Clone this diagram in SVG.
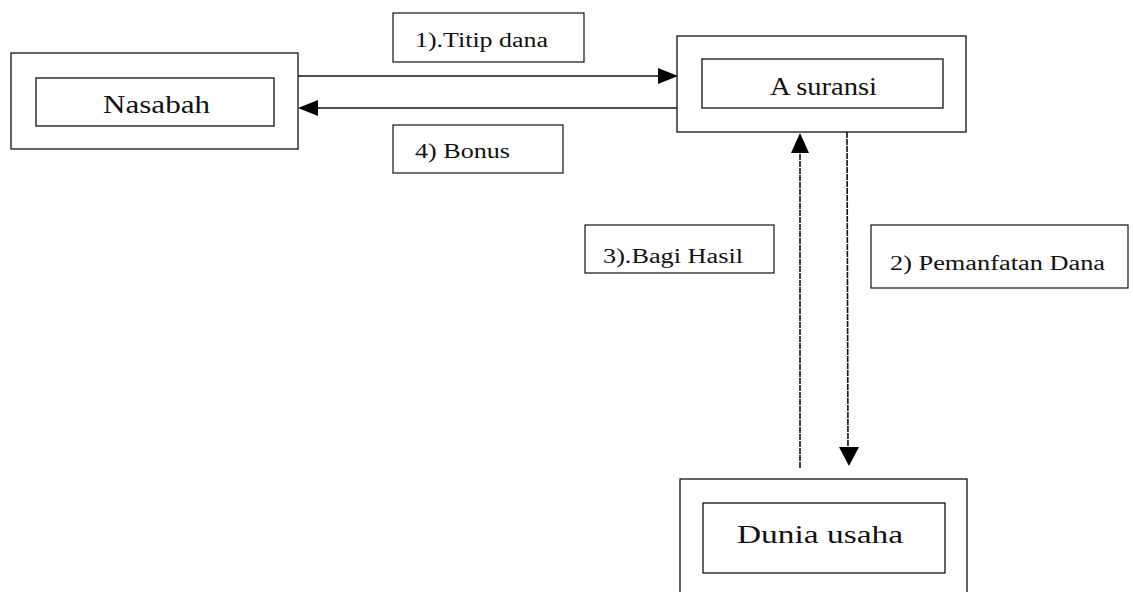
<svg xmlns="http://www.w3.org/2000/svg" width="1133" height="592" viewBox="0 0 1133 592">
<defs>
<style>
.box{fill:none;stroke:#111;stroke-width:1.3}
.lbl{fill:none;stroke:#111;stroke-width:1.2}
.ln{fill:none;stroke:#111;stroke-width:1.4}
.vl{fill:none;stroke:#111;stroke-width:1.6;stroke-dasharray:6 1}
.ah{fill:#000;stroke:none}
.t{font-family:"Liberation Serif","Times New Roman",serif;fill:#111}
.big{font-size:26px}
.sm{font-size:20px}
</style>
</defs>
<rect width="1133" height="592" fill="#fff"/>
<g id="nasabah">
<rect class="box" x="11" y="53" width="287" height="96"/>
<rect class="box" x="36" y="78" width="238" height="48"/>
<text class="t big" x="103" y="113" textLength="107" lengthAdjust="spacingAndGlyphs">Nasabah</text>
</g>
<g id="asuransi">
<rect class="box" x="677" y="36" width="289" height="96"/>
<rect class="box" x="702" y="59" width="241" height="49"/>
<text class="t big" x="770" y="95" font-size="24" textLength="107" lengthAdjust="spacingAndGlyphs">A suransi</text>
</g>
<g id="dunia-usaha">
<rect class="box" x="680" y="479" width="287" height="130"/>
<rect class="box" x="703" y="503" width="242" height="70"/>
<text class="t big" x="737" y="543" textLength="166" lengthAdjust="spacingAndGlyphs">Dunia usaha</text>
</g>
<g id="label-1">
<rect class="lbl" x="393" y="13" width="191" height="49"/>
<text class="t sm" x="415" y="47" textLength="133" lengthAdjust="spacingAndGlyphs">1).Titip dana</text>
</g>
<g id="label-4">
<rect class="lbl" x="393" y="125" width="170" height="48"/>
<text class="t sm" x="415" y="158" textLength="95" lengthAdjust="spacingAndGlyphs">4) Bonus</text>
</g>
<g id="label-3">
<rect class="lbl" x="585" y="225" width="189" height="48"/>
<text class="t sm" x="603" y="263" textLength="140" lengthAdjust="spacingAndGlyphs">3).Bagi Hasil</text>
</g>
<g id="label-2">
<rect class="lbl" x="871" y="225" width="257" height="63"/>
<text class="t sm" x="890" y="270" textLength="215" lengthAdjust="spacingAndGlyphs">2) Pemanfatan Dana</text>
</g>
<g id="connectors">
<line class="ln" x1="298" y1="76" x2="660" y2="76"/>
<polygon class="ah" points="678,76 658,68 658,84"/>
<line class="ln" x1="677" y1="108" x2="316" y2="108"/>
<polygon class="ah" points="298,108 318,100 318,116"/>
<line class="vl" x1="800" y1="468" x2="800" y2="151"/>
<polygon class="ah" points="800,133 791,153 809,153"/>
<line class="vl" x1="847" y1="132" x2="848" y2="449"/>
<polygon class="ah" points="849,466 839,447 859,447"/>
</g>
</svg>
